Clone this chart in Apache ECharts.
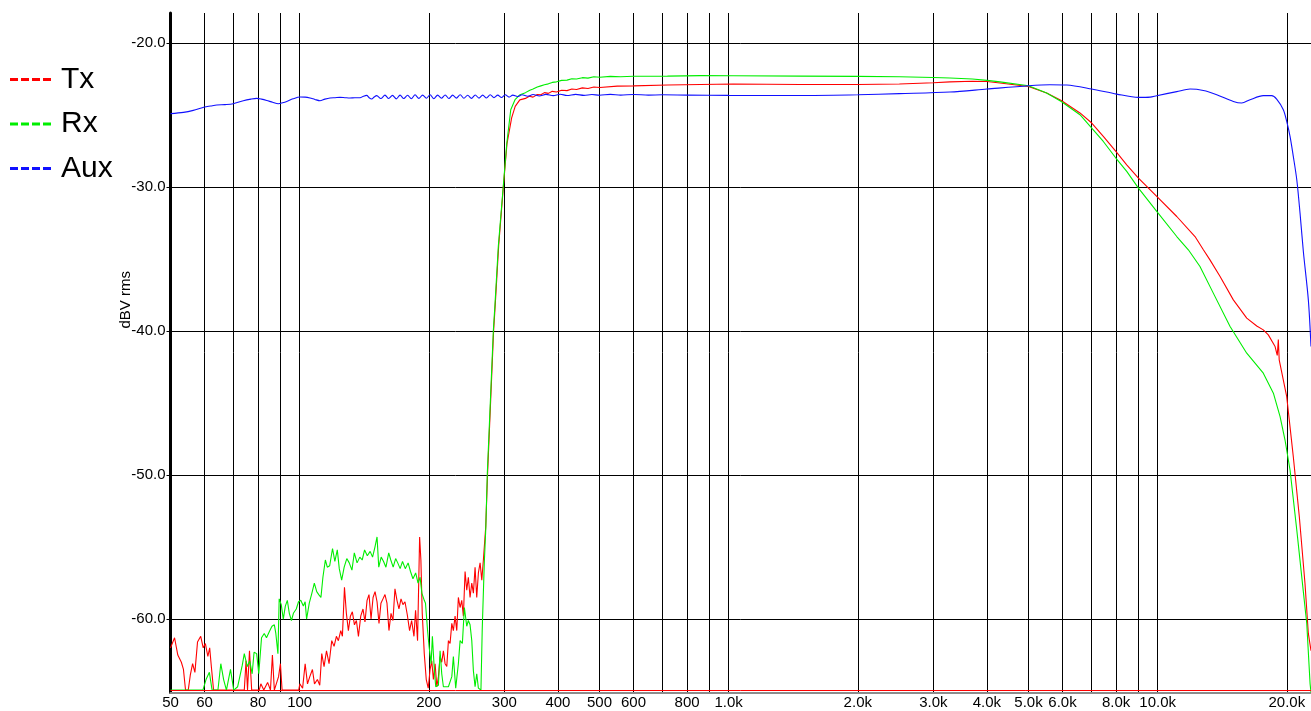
<!DOCTYPE html>
<html><head><meta charset="utf-8">
<script src="https://cdn.jsdelivr.net/npm/echarts@6/dist/echarts.min.js"></script>
<style>html,body{margin:0;padding:0;background:#fff}#c{width:1311px;height:711px}</style>
</head><body><div id="c"></div>
<script>
const seriesNames = ['Tx', 'Rx', 'Aux'];
const seriesColors = ['#ff0000', '#00ee00', '#1010ff'];

// [frequency Hz, level dBV]
const txPoints = [
[50,-62.0],[51.1,-61.3],[52,-62.5],[53,-63.0],[53.6,-63.5],[54.2,-64.93],[55,-64.93],[55.6,-63.9],[56.3,-63.1],[57,-63.7],
[57.8,-61.6],[58.8,-61.2],[59.6,-62.0],[60.3,-61.7],[61.1,-62.6],[61.7,-62.0],[62.3,-63.4],[63,-64.93],[74.3,-64.93],[75,-62.9],
[75.6,-64.93],[76.4,-62.2],[77.3,-64.93],[80.5,-64.93],[81.2,-64.5],[82.5,-64.93],[84.2,-64.4],[85.5,-64.93],[86.4,-62.5],[87.3,-64.93],
[89.3,-64.0],[90.2,-63.1],[91,-64.93],[99.5,-64.93],[100.1,-64.5],[101.6,-64.8],[103,-63.1],[104.3,-64.5],[105.6,-64.0],[107.1,-63.5],
[108.3,-64.5],[110,-64.2],[111.4,-64.6],[112.6,-62.4],[114,-63.3],[115.5,-62.2],[117.1,-63.1],[118.8,-61.5],[120.3,-61.9],[121.8,-61.2],
[123.1,-61.5],[124.7,-60.8],[125.8,-61.2],[127.2,-57.8],[128.5,-59.6],[129.9,-60.8],[131.3,-59.8],[132.7,-59.5],[134.2,-60.4],[135.6,-60.1],
[137.1,-61.2],[138.8,-59.8],[140.5,-59.3],[142,-60.2],[143.6,-58.7],[145.1,-58.3],[146.7,-60.0],[148.3,-58.5],[149.9,-58.1],[151.5,-58.8],
[153.1,-60.3],[154.7,-58.9],[156.4,-58.6],[158.1,-58.3],[159.8,-58.9],[161.5,-60.8],[163.3,-59.6],[165,-60.1],[166.8,-57.9],[168.6,-58.7],
[170.4,-59.3],[172.3,-58.6],[174.1,-59.0],[176,-58.8],[178.2,-59.7],[180.4,-60.8],[182.4,-60.1],[184.7,-61.2],[186.3,-59.4],[188.3,-61.5],
[190.4,-54.3],[191.7,-55.9],[193.1,-59.6],[195.2,-62.4],[197.3,-64.2],[199.4,-64.8],[201.4,-63.5],[203.2,-62.9],[205,-64.2],[206.9,-63.1],
[208.8,-64.7],[210.6,-64.0],[212.5,-62.6],[214.4,-63.0],[216.3,-62.2],[218.3,-63.1],[220.3,-63.3],[222.2,-61.5],[224.2,-61.7],[226.3,-60.3],
[228.2,-60.8],[230.3,-59.8],[232.4,-60.8],[234.4,-58.5],[236.6,-59.2],[238.7,-58.7],[240.8,-59.8],[243,-56.7],[245.2,-58.0],[247.3,-57.1],
[249.6,-58.5],[251.9,-57.5],[254.1,-58.2],[256.4,-56.4],[258.7,-58.5],[261,-56.8],[263.4,-56.1],[265.8,-57.3],[268.1,-55.9],[271.5,-53.6],
[274.2,-49.9],[283.2,-40.0],[285.8,-38.1],[291,-34.1],[298.6,-29.9],[304.3,-27.0],[312,-25.2],[318,-24.4],[326,-23.95],[336,-23.85],
[343,-23.7],[350,-23.76],[358,-23.58],[365,-23.6],[372,-23.45],[380,-23.5],[388,-23.36],[397,-23.4],[408,-23.28],[420,-23.31],
[431,-23.2],[442,-23.23],[456,-23.12],[470,-23.16],[485,-23.06],[501,-23.09],[550,-23.0],[600,-22.98],[720,-22.92],[860,-22.88],
[1025,-22.85],[1470,-22.88],[2000,-22.88],[2500,-22.85],[3000,-22.76],[3280,-22.7],[3700,-22.66],[4000,-22.68],[4290,-22.78],[5000,-23.02],
[5510,-23.47],[5960,-23.99],[6590,-24.86],[7020,-25.56],[7470,-26.49],[7990,-27.53],[8470,-28.46],[9020,-29.38],[9950,-30.66],[11080,-32.05],
[12220,-33.44],[12780,-34.36],[13240,-35.06],[13980,-36.22],[15010,-37.84],[16130,-39.11],[17020,-39.65],[17630,-39.92],[18110,-40.27],[18780,-41.08],
[19000,-41.7],[19110,-40.6],[19200,-42.0],[19290,-42.1],[19990,-44.56],[20710,-48.73],[21390,-52.9],[22050,-57.53],[22450,-61.0],[22773,-62.2]
];

const rxPoints = [
[50,-64.93],[59.5,-64.93],[60.5,-64.2],[61.6,-63.7],[62.5,-64.93],[64.5,-64.93],[65.5,-63.1],[66.5,-64.2],[67.5,-64.93],[69,-63.5],
[70.2,-64.93],[71.7,-64.7],[73.5,-63.2],[74.3,-62.4],[75.5,-63.3],[76.5,-62.9],[77.5,-63.8],[78.3,-62.3],[79.4,-62.4],[80.3,-63.8],
[81.5,-61.3],[82.7,-61.0],[83.7,-61.3],[84.9,-60.9],[86.2,-60.5],[87.3,-60.4],[88,-61.0],[89,-62.4],[89.6,-58.6],[90.6,-59.0],
[91.6,-60.0],[92.6,-59.1],[93.6,-58.7],[94.6,-59.6],[95.7,-60.1],[96.7,-59.6],[98.2,-59.3],[99.4,-58.8],[100.6,-58.7],[102,-59.1],
[103,-58.8],[103.8,-60.0],[105.3,-58.9],[106.8,-58.2],[108.2,-57.5],[109.6,-58.1],[110.8,-58.3],[112.1,-58.5],[113.3,-57.1],[114.8,-55.9],
[116,-56.4],[117.5,-56.3],[119.3,-55.1],[120.8,-56.0],[122.4,-55.2],[123.7,-56.5],[125.3,-57.3],[127,-56.4],[128.8,-55.8],[130.5,-56.1],
[132.4,-56.6],[134.1,-55.4],[136.1,-56.1],[138.1,-55.7],[139.9,-55.9],[141.7,-55.2],[143.8,-55.6],[146,-55.3],[147.9,-55.7],[149.8,-55.0],
[151.5,-54.3],[152.9,-56.4],[154.9,-55.7],[156.9,-56.0],[158.9,-56.4],[161.3,-55.4],[163.1,-55.9],[165.2,-56.4],[167.4,-55.8],[169.3,-56.1],
[171.5,-56.5],[173.7,-56.0],[176.3,-56.5],[179,-56.1],[181.3,-56.7],[183.7,-57.2],[186.4,-56.8],[188.8,-57.5],[190.9,-57.1],[192.7,-58.2],
[195.2,-58.7],[196.5,-58.9],[198.7,-60.8],[200.3,-61.9],[202.5,-63.1],[203.9,-61.2],[206.1,-63.6],[207.6,-64.7],[210.6,-64.6],[212.5,-62.2],
[214.4,-63.8],[216.3,-64.7],[222.2,-64.7],[226.3,-64.0],[228.2,-62.6],[231.1,-64.8],[234.4,-63.1],[236.6,-61.5],[239.5,-61.7],[242.1,-59.2],
[245.2,-60.5],[247.3,-60.1],[249.6,-60.4],[251.9,-61.5],[254.1,-63.6],[256.4,-64.7],[258.7,-63.8],[261,-64.8],[264.6,-64.93],[266.4,-60.8],
[269.4,-56.1],[271.5,-53.8],[273.8,-49.9],[282.8,-40.0],[285.4,-38.1],[290.5,-34.1],[298.4,-29.9],[303.9,-27.0],[310.5,-24.64],[317.7,-23.94],
[326.4,-23.59],[336,-23.45],[344,-23.28],[350,-23.2],[358,-23.06],[365,-22.98],[372,-22.9],[380,-22.84],[388,-22.74],[397,-22.7],
[408,-22.6],[420,-22.58],[431,-22.49],[442,-22.5],[456,-22.41],[470,-22.44],[485,-22.35],[501,-22.38],[530,-22.32],[560,-22.35],
[600,-22.31],[720,-22.3],[860,-22.27],[1025,-22.28],[1470,-22.3],[2000,-22.32],[2500,-22.35],[3000,-22.4],[3280,-22.43],[3700,-22.5],
[4000,-22.6],[4290,-22.7],[5000,-22.97],[5510,-23.47],[5960,-24.06],[6590,-24.98],[7020,-25.91],[7470,-26.84],[7990,-27.99],[8470,-28.92],
[9020,-30.08],[9950,-31.7],[11080,-33.44],[11790,-34.36],[12550,-35.52],[13480,-37.37],[14750,-39.69],[16130,-41.54],[17630,-42.93],[18610,-44.32],
[19290,-45.95],[19810,-47.57],[20350,-49.65],[21100,-53.82],[21670,-57.07],[22260,-60.31],[22660,-64.48],[22773,-65.1]
];

const auxPoints = [
[50,-24.91],[53.6,-24.82],[56.5,-24.68],[60,-24.45],[62,-24.38],[64.1,-24.31],[67,-24.28],[70,-24.22],[73.9,-24.01],[77,-23.9],
[79.4,-23.85],[81.5,-23.9],[83.8,-23.99],[86.5,-24.12],[89.2,-24.22],[91.3,-24.15],[93.3,-24.06],[96.5,-23.88],[100.2,-23.75],[103,-23.76],
[105.7,-23.82],[108.5,-23.92],[111.5,-24.01],[114.5,-23.9],[117.7,-23.82],[121,-23.8],[124.2,-23.78],[127.5,-23.8],[131,-23.82],[134.5,-23.8],
[138.3,-23.8],[140.8,-23.7],[143.3,-23.64],[145.2,-23.8],[147.2,-23.89],[149.2,-23.75],[151.2,-23.66],[154.6,-23.86],[158.1,-23.62],[161.3,-23.86],
[164.6,-23.64],[168,-23.88],[171.4,-23.62],[174.9,-23.86],[178.5,-23.63],[182.1,-23.87],[185.8,-23.6],[189.6,-23.85],[193.5,-23.62],[197.4,-23.84],
[201.4,-23.6],[205.5,-23.87],[209.7,-23.62],[214,-23.84],[218.4,-23.61],[222.8,-23.86],[227.3,-23.62],[232,-23.83],[236.7,-23.6],[241.5,-23.84],
[246.4,-23.63],[251.5,-23.85],[256.6,-23.61],[261.8,-23.83],[267.1,-23.62],[272.6,-23.82],[278.1,-23.6],[283.8,-23.8],[289.6,-23.62],[295.5,-23.79],
[301.5,-23.6],[307.7,-23.76],[314,-23.62],[322,-23.72],[330,-23.6],[340,-23.7],[350,-23.58],[362,-23.68],[375,-23.57],[390,-23.66],
[405,-23.56],[420,-23.65],[440,-23.57],[460,-23.64],[480,-23.58],[500,-23.63],[530,-23.57],[560,-23.62],[600,-23.58],[650,-23.62],
[700,-23.6],[800,-23.62],[1000,-23.64],[1500,-23.65],[2000,-23.6],[2500,-23.52],[3280,-23.41],[4000,-23.2],[5000,-22.97],[5610,-22.9],
[6140,-22.92],[7020,-23.2],[8030,-23.55],[9020,-23.78],[9600,-23.76],[9950,-23.66],[11080,-23.38],[11900,-23.2],[12780,-23.3],[13730,-23.59],
[15010,-24.06],[15700,-24.17],[16420,-23.94],[17630,-23.66],[18440,-23.66],[18940,-23.9],[19630,-24.64],[19990,-25.45],[20350,-26.49],[20710,-27.88],
[21100,-29.5],[21470,-31.81],[21860,-34.5],[22450,-37.84],[22773,-41.08]
];

const floorDb = -64.93;
const xGridHz = [50,60,70,80,90,100,200,300,400,500,600,700,800,900,1000,2000,3000,4000,5000,6000,7000,8000,9000,10000,20000];
const xLabelHz = [50,60,80,100,200,300,400,500,600,800,1000,2000,3000,4000,5000,6000,8000,10000,20000];
const yTickDb = [-60,-50,-40,-30,-20];
const xRange = [50, 22773];
const yRange = [-65.1, -17.92];
const axisTitle = 'dBV rms';

const font = "'Liberation Sans', Arial, sans-serif";
function fmtHz(v) { v = Math.round(v); return v < 1000 ? String(v) : (v / 1000).toFixed(1) + 'k'; }
const dashIcon = 'path://M0,0H8V3H0ZM11,0H19V3H11ZM22,0H30V3H22ZM33,0H41V3H33Z';

const chart = echarts.init(document.getElementById('c'), null, {renderer: 'canvas'});
const pts = [txPoints, rxPoints, auxPoints];
chart.setOption({
  animation: false,
  backgroundColor: '#ffffff',
  textStyle: {fontFamily: font},
  legend: {
    orient: 'vertical', left: 5, top: 54,
    itemWidth: 41, itemHeight: 3, itemGap: 3.5,
    icon: dashIcon,
    itemStyle: {borderWidth: 0},
    textStyle: {fontSize: 30, lineHeight: 30, color: '#000', fontFamily: font, padding: [0, 0, 11, 5]},
    data: seriesNames
  },
  grid: {left: 170.5, right: 0, top: 13, bottom: 18.5},
  xAxis: {
    type: 'log', logBase: 10, min: xRange[0], max: xRange[1],
    axisLine: {show: true, onZero: false, lineStyle: {color: '#8c8c8c', width: 2}},
    axisTick: {show: false, customValues: xGridHz},
    minorTick: {show: false}, minorSplitLine: {show: false},
    splitLine: {show: true, lineStyle: {color: '#000', width: 1}},
    axisLabel: {customValues: xLabelHz, formatter: fmtHz, fontSize: 15, color: '#000', margin: 3, fontFamily: font}
  },
  yAxis: {
    type: 'value', min: yRange[0], max: yRange[1],
    name: axisTitle, nameLocation: 'middle', nameRotate: 90, nameGap: 37, nameMoveOverlap: false,
    nameTextStyle: {fontSize: 15, color: '#000', fontFamily: font, padding: [0, 0, 0, 106]},
    axisLine: {show: true, lineStyle: {color: '#000', width: 3}},
    axisTick: {show: true, customValues: yTickDb, length: 4, lineStyle: {color: '#000'}},
    axisLabel: {customValues: yTickDb, formatter: v => v.toFixed(1), fontSize: 15, color: '#000', margin: 5, fontFamily: font},
    splitLine: {show: true, lineStyle: {color: '#000', width: 1}}
  },
  series: seriesNames.map((n, i) => ({
    name: n, type: 'line', data: pts[i], showSymbol: false, symbol: 'none',
    smooth: i === 2 ? 0.3 : false,
    lineStyle: {color: seriesColors[i], width: 1.1},
    itemStyle: {color: seriesColors[i]},
    z: 2 + i,
    markLine: i === 0 ? {
      silent: true, symbol: 'none', label: {show: false}, z: 10,
      lineStyle: {color: seriesColors[0], width: 1, type: 'solid'},
      data: [{yAxis: floorDb}]
    } : undefined
  }))
});
</script>
</body></html>
